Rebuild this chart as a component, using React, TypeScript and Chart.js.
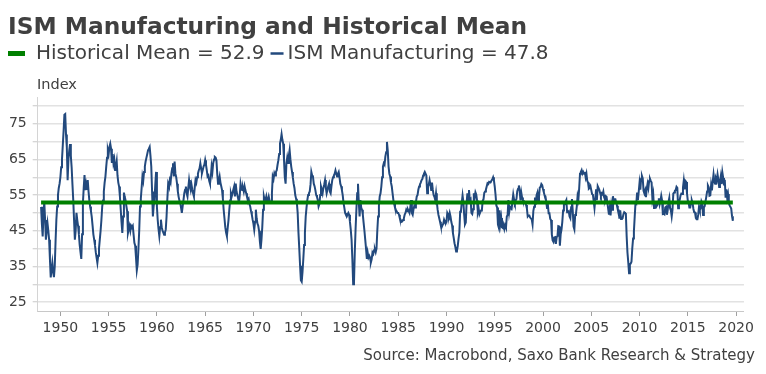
import React, { useEffect, useRef } from 'react';
import { Chart, registerables } from 'chart.js';

Chart.register(...registerables);

const FONT = '"DejaVu Sans", Verdana, sans-serif';

const titleText = 'ISM Manufacturing and Historical Mean';
const sourceText = 'Source: Macrobond, Saxo Bank Research & Strategy';
const yAxisTitle = 'Index';

const START_YEAR = 1948;
const meanValue = 52.9;
const latestValue = 47.8;

// Monthly ISM Manufacturing PMI, Jan 1948 onwards
const ism1948to1959 = [
  51.7, 47.0, 43.4, 50.0, 53.0, 48.0, 42.5, 45.0, 47.1, 45.0, 42.5, 37.0,
  31.9, 34.0, 36.0, 33.5, 32.0, 35.0, 42.0, 48.0, 51.8, 55.0, 57.0, 58.2,
  60.0, 62.8, 65.0, 69.0, 73.0, 77.5, 77.7, 72.0, 68.4, 59.2, 65.0, 67.5,
  69.3, 66.0, 62.8, 58.0, 53.6, 48.0, 42.5, 45.0, 50.0, 48.0, 46.4, 44.0,
  41.0, 39.0, 37.1, 44.0, 52.8, 57.0, 60.6, 56.4, 58.0, 56.5, 59.2, 56.0,
  53.5, 51.8, 50.5, 48.9, 46.5, 44.0, 42.5, 41.0, 39.0, 37.5, 36.0, 38.0,
  40.0, 42.5, 45.0, 48.0, 51.8, 53.5, 56.0, 58.5, 60.2, 63.0, 65.5, 67.6,
  66.5, 68.5, 69.4, 68.0, 64.0, 66.5, 63.9, 65.0, 62.0, 63.0, 64.5, 60.5,
  58.5, 57.4, 54.6, 51.0, 47.5, 44.4, 49.0, 55.7, 54.5, 53.6, 52.0, 50.5,
  44.4, 45.5, 46.4, 45.0, 46.4, 46.0, 46.4, 44.0, 41.6, 40.8, 37.5, 33.9,
  35.5, 39.8, 45.0, 51.8, 54.0, 57.0, 60.2, 59.0, 61.5, 63.0, 64.5, 65.5,
  66.5, 67.6, 68.0, 68.5, 66.0, 63.0, 56.0, 49.0, 52.0, 53.6, 58.0, 61.5,
];
const ism1960to1969 = [
  51.8, 48.0, 45.5, 43.5, 46.0, 48.1, 46.0, 45.0, 44.5, 43.9, 44.5, 45.3,
  49.0, 54.0, 58.2, 57.5, 59.2, 58.5, 61.0, 62.5, 63.9, 60.2, 64.4, 61.0,
  60.0, 58.2, 56.0, 54.5, 53.5, 52.8, 51.5, 50.0, 51.8, 53.5, 55.5, 56.5,
  57.4, 55.5, 54.6, 57.0, 59.2, 57.5, 56.4, 57.9, 56.5, 55.5, 54.6, 57.0,
  59.2, 58.5, 60.0, 61.0, 61.9, 62.5, 63.9, 62.5, 61.1, 62.0, 63.0, 63.5,
  64.8, 63.5, 62.0, 60.2, 60.5, 59.0, 58.2, 60.0, 63.0, 61.5, 64.0, 65.0,
  65.7, 65.5, 64.8, 61.0, 58.2, 59.0, 60.2, 58.5, 57.5, 56.4, 54.0, 50.9,
  48.5, 46.0, 44.5, 43.5, 45.8, 48.0, 50.9, 53.5, 55.5, 54.6, 55.5, 56.5,
  57.4, 54.6, 58.2, 56.0, 55.0, 54.0, 52.8, 55.0, 58.2, 57.0, 56.4, 57.0,
  56.0, 57.5, 56.4, 55.5, 54.5, 53.6, 54.0, 52.5, 51.8, 50.5, 49.5, 48.1,
];
const ism1970to1979 = [
  47.0, 45.3, 47.5, 50.9, 48.5, 47.0, 46.4, 45.0, 42.0, 39.9, 42.5, 46.0,
  50.9, 54.6, 53.5, 53.6, 54.6, 53.0, 53.6, 54.6, 53.5, 53.0, 52.8, 55.5,
  60.2, 59.5, 61.1, 60.5, 61.5, 62.0, 63.5, 64.8, 66.5, 69.4, 70.5, 72.1,
  70.5, 69.4, 65.0, 60.0, 58.2, 63.9, 65.5, 64.0, 66.0, 67.6, 65.0, 63.0,
  61.5, 60.0, 58.2, 57.0, 55.0, 54.0, 52.8, 50.0, 44.4, 40.0, 35.2, 31.1,
  30.7, 33.4, 37.0, 41.0, 44.4, 49.0, 51.5, 53.6, 55.0, 55.5, 56.0, 58.0,
  61.5, 60.5, 60.2, 58.2, 57.5, 56.4, 55.0, 54.5, 53.6, 51.8, 52.5, 55.0,
  57.4, 56.5, 55.5, 57.0, 58.0, 59.2, 57.0, 55.5, 56.5, 57.5, 58.2, 56.0,
  55.5, 57.5, 59.2, 60.0, 60.5, 61.0, 61.9, 61.0, 60.2, 61.0, 61.5, 60.0,
  58.2, 57.5, 56.4, 55.0, 52.8, 51.5, 50.0, 49.5, 49.0, 49.5, 50.0, 49.5,
];
const ism1980to1989 = [
  47.5, 45.3, 42.5, 37.0, 30.0, 30.3, 38.9, 45.5, 50.9, 55.5, 58.2, 53.0,
  49.0, 53.6, 51.5, 50.9, 49.5, 47.2, 45.0, 42.5, 40.0, 37.1, 38.9, 37.5,
  38.0, 37.5, 36.1, 37.0, 38.9, 38.5, 39.5, 39.8, 39.0, 40.0, 45.0, 49.0,
  52.0, 54.6, 55.5, 57.4, 60.0, 63.0, 63.9, 63.5, 65.8, 67.0, 69.9, 67.5,
  63.0, 61.0, 60.2, 58.5, 57.4, 55.5, 53.6, 52.5, 51.5, 50.9, 50.5, 50.0,
  50.0, 49.5, 48.5, 48.1, 47.5, 47.6, 48.0, 48.5, 49.5, 50.0, 50.9, 50.5,
  51.0, 50.5, 50.0, 51.5, 53.6, 50.0, 49.5, 51.0, 52.0, 51.5, 53.0, 54.6,
  55.0, 56.5, 57.4, 58.0, 58.5, 59.2, 59.5, 60.5, 61.0, 61.5, 61.0, 60.5,
  55.5, 57.4, 58.0, 59.2, 58.0, 56.4, 58.5, 56.5, 55.0, 54.5, 53.6, 55.5,
  53.0, 50.9, 49.5, 48.5, 47.5, 46.4, 46.0, 46.5, 47.0, 48.1, 47.5, 47.0,
];
const ism1990to1999 = [
  47.5, 50.0, 49.5, 49.0, 50.0, 49.0, 47.5, 46.5, 44.4, 43.0, 41.5, 40.5,
  39.2, 39.4, 40.7, 42.8, 44.5, 50.3, 50.6, 52.9, 54.9, 53.1, 49.5, 46.8,
  47.3, 52.7, 55.5, 52.8, 56.4, 53.6, 53.9, 50.0, 49.7, 51.0, 55.5, 54.2,
  55.8, 55.2, 53.5, 50.2, 51.2, 49.6, 50.2, 50.7, 50.8, 53.4, 53.8, 55.6,
  56.0, 56.5, 57.4, 58.3, 58.1, 58.7, 58.6, 58.6, 59.1, 59.4, 60.0, 59.1,
  57.4, 55.1, 52.1, 51.5, 46.7, 45.9, 50.7, 47.0, 48.6, 46.0, 45.8, 46.7,
  45.5, 46.5, 45.9, 49.0, 49.4, 53.6, 50.2, 51.7, 51.4, 51.2, 53.3, 55.2,
  53.8, 52.8, 53.5, 53.9, 56.1, 56.8, 57.7, 56.1, 53.5, 55.7, 54.3, 53.5,
  53.4, 52.8, 52.9, 52.2, 51.2, 49.0, 49.3, 49.3, 48.7, 48.7, 48.2, 46.8,
  50.6, 51.7, 54.3, 52.3, 55.0, 55.7, 53.4, 54.5, 57.1, 57.3, 58.1, 57.8,
];
const ism2000to2009 = [
  56.7, 55.8, 54.9, 54.7, 53.2, 51.4, 52.5, 49.9, 49.9, 48.3, 48.0, 43.9,
  42.3, 41.9, 43.1, 43.2, 41.3, 43.2, 43.5, 46.3, 46.2, 40.8, 44.1, 45.3,
  47.5, 50.7, 52.4, 52.4, 53.1, 53.6, 50.2, 50.3, 50.5, 49.0, 48.5, 51.6,
  53.9, 50.5, 46.2, 45.4, 49.4, 49.8, 51.8, 54.7, 53.7, 57.0, 61.0, 61.5,
  62.0, 61.0, 61.5, 61.0, 61.5, 60.0, 61.0, 59.0, 58.5, 56.8, 57.0, 57.5,
  56.4, 55.3, 55.2, 53.3, 51.4, 53.8, 56.6, 53.6, 57.5, 57.0, 56.5, 55.6,
  54.8, 55.5, 55.2, 56.0, 54.4, 53.8, 54.7, 54.5, 52.9, 51.2, 49.5, 51.4,
  49.3, 52.3, 50.9, 54.7, 52.9, 53.8, 53.8, 52.9, 52.0, 50.9, 50.8, 48.4,
  50.7, 48.3, 48.6, 48.6, 49.6, 50.2, 50.0, 49.9, 43.5, 38.9, 36.2, 33.1,
  35.6, 35.8, 36.3, 40.1, 42.8, 44.8, 48.9, 52.8, 52.6, 55.7, 53.6, 55.9,
];
const ism2010to2019 = [
  58.4, 56.5, 59.6, 60.4, 59.7, 56.2, 55.5, 56.3, 54.4, 56.9, 58.2, 57.0,
  59.0, 59.6, 59.0, 58.5, 54.0, 55.3, 51.4, 51.9, 52.5, 51.8, 52.2, 53.1,
  54.1, 52.4, 53.4, 54.8, 53.5, 49.7, 49.8, 49.6, 51.5, 51.7, 49.5, 50.7,
  53.1, 54.2, 51.3, 50.7, 49.0, 50.9, 55.4, 55.7, 56.2, 56.4, 57.3, 57.0,
  51.3, 53.2, 53.7, 54.9, 55.4, 55.3, 57.1, 59.0, 56.6, 59.0, 58.7, 55.5,
  53.5, 52.9, 51.5, 51.5, 52.8, 53.5, 52.7, 51.1, 50.2, 50.1, 48.6, 48.2,
  48.2, 49.5, 51.8, 50.8, 51.3, 53.2, 52.6, 49.4, 51.5, 51.9, 53.2, 54.5,
  56.0, 57.7, 57.2, 54.8, 54.9, 57.8, 56.3, 58.8, 60.8, 58.7, 58.2, 59.7,
  59.1, 60.8, 59.3, 57.3, 58.7, 60.2, 58.1, 61.3, 59.8, 57.7, 59.3, 54.3,
  56.6, 54.2, 55.3, 52.8, 52.1, 51.7, 51.2, 49.1, 47.8,
];

const xTickYears = [1950, 1955, 1960, 1965, 1970, 1975, 1980, 1985, 1990, 1995, 2000, 2005, 2010, 2015, 2020];
const yGridValues = [25, 30, 35, 40, 45, 50, 55, 60, 65, 70, 75, 80];
const yLabelValues = [25, 35, 45, 55, 65, 75];

const ISM_COLOR = '#22497d';
const MEAN_COLOR = '#008000';
const TEXT_COLOR = '#404040';

const ismValues = [
  ...ism1948to1959,
  ...ism1960to1969,
  ...ism1970to1979,
  ...ism1980to1989,
  ...ism1990to1999,
  ...ism2000to2009,
  ...ism2010to2019,
];

const textPlugin = {
  id: 'chartTexts',
  afterDraw(chart: any) {
    const ctx = chart.ctx as CanvasRenderingContext2D;
    const ds = chart.data.datasets;
    ctx.save();
    ctx.fillStyle = TEXT_COLOR;
    // Title
    ctx.font = `bold 23.3px ${FONT}`;
    ctx.textAlign = 'left';
    ctx.textBaseline = 'alphabetic';
    ctx.fillText(titleText, 0, 26);
    // Legend
    ctx.font = `20px ${FONT}`;
    ctx.textBaseline = 'middle';
    const ly = 45.5;
    ctx.lineCap = 'butt';
    ctx.strokeStyle = ds[0].borderColor;
    ctx.lineWidth = 5;
    ctx.beginPath();
    ctx.moveTo(0, ly);
    ctx.lineTo(17, ly);
    ctx.stroke();
    ctx.fillText(ds[0].label, 28, ly);
    const x = 28 + ctx.measureText(ds[0].label).width + 6;
    ctx.strokeStyle = ds[1].borderColor;
    ctx.lineWidth = 2.5;
    ctx.beginPath();
    ctx.moveTo(x, ly);
    ctx.lineTo(x + 13, ly);
    ctx.stroke();
    ctx.fillText(ds[1].label, x + 17, ly);
    // Axis title
    ctx.font = `14.5px ${FONT}`;
    ctx.fillText(yAxisTitle, 29, 77);
    // Source
    ctx.font = `15px ${FONT}`;
    ctx.textAlign = 'right';
    ctx.fillText(sourceText, 747, 348);
    ctx.restore();
  },
};

export default function App() {
  const canvasRef = useRef<HTMLCanvasElement | null>(null);

  useEffect(() => {
    const canvas = canvasRef.current;
    if (!canvas) return;
    const ismPoints = ismValues.map((v, i) => ({ x: START_YEAR + i / 12, y: v }));
    const lastX = ismPoints[ismPoints.length - 1].x;
    const meanPoints = [
      { x: START_YEAR, y: meanValue },
      { x: lastX, y: meanValue },
    ];

    const chart = new Chart(canvas, {
      type: 'line',
      data: {
        datasets: [
          {
            label: `Historical Mean = ${meanValue}`,
            data: meanPoints,
            borderColor: MEAN_COLOR,
            backgroundColor: MEAN_COLOR,
            borderWidth: 4,
            pointRadius: 0,
            tension: 0,
          },
          {
            label: `ISM Manufacturing = ${latestValue}`,
            data: ismPoints,
            borderColor: ISM_COLOR,
            backgroundColor: ISM_COLOR,
            borderWidth: 2,
            pointRadius: 0,
            tension: 0,
          },
        ],
      },
      options: {
        responsive: false,
        animation: false,
        devicePixelRatio: 1,
        layout: { padding: { top: 89, left: 0, right: 12.3, bottom: 20 } },
        plugins: {
          legend: { display: false },
          title: { display: false },
          tooltip: { enabled: false },
        },
        scales: {
          x: {
            type: 'linear',
            min: 1947.65,
            max: 2020.82,
            afterBuildTicks: (s: any) => {
              s.ticks = xTickYears.map((v) => ({ value: v }));
            },
            afterFit: (s: any) => {
              s.height = 35;
            },
            grid: {
              display: true,
              drawOnChartArea: false,
              drawTicks: true,
              tickLength: 5,
              color: '#a0a0a0',
            },
            border: { display: true, color: '#c8c8c8', width: 1 },
            ticks: {
              autoSkip: false,
              maxRotation: 0,
              padding: 4,
              color: TEXT_COLOR,
              font: { family: FONT, size: 14 },
              callback: (v: any) => String(v),
            },
          },
          y: {
            type: 'linear',
            min: 22.5,
            max: 82.5,
            afterBuildTicks: (s: any) => {
              s.ticks = yGridValues.map((v) => ({ value: v }));
            },
            afterFit: (s: any) => {
              s.width = 29.7;
            },
            grid: {
              color: '#e2e2e2',
              lineWidth: 1.5,
              tickLength: 5,
              tickColor: '#c8c8c8',
              tickWidth: 1,
            },
            border: { display: true, color: '#d4d4d4', width: 1 },
            ticks: {
              autoSkip: false,
              padding: 6,
              color: TEXT_COLOR,
              font: { family: FONT, size: 14 },
              callback: (v: any) => (yLabelValues.includes(Number(v)) ? String(v) : ''),
            },
          },
        },
      },
      plugins: [textPlugin],
    });
    return () => chart.destroy();
  }, []);

  return (
    <div style={{ width: 750, height: 358 }}>
      <canvas ref={canvasRef} width={750} height={358} style={{ display: 'block' }} />
    </div>
  );
}
